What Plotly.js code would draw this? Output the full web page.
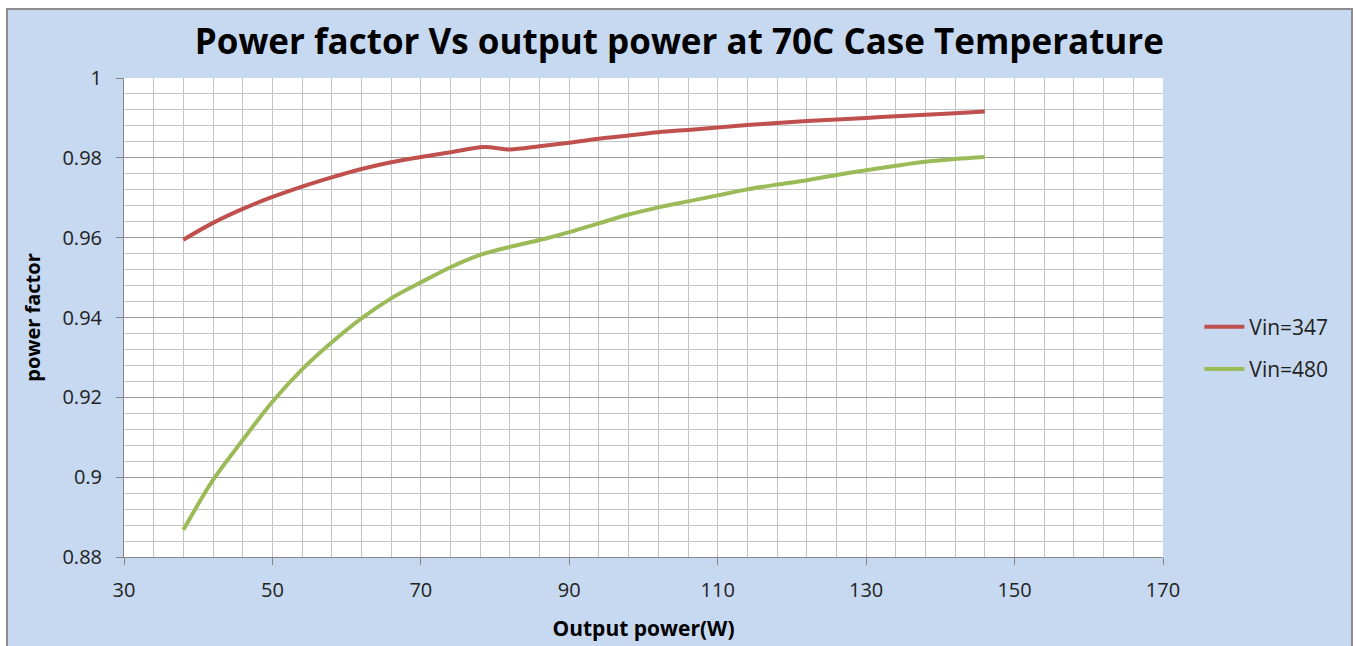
<!DOCTYPE html>
<html>
<head>
<meta charset="utf-8">
<script src="https://cdn.plot.ly/plotly-3.0.1.min.js"></script>
<style>html,body{margin:0;padding:0;background:#fff;}#chart{width:1356px;height:646px;}</style>
</head>
<body>
<div id="chart"></div>
<script>
// Output power (W)
const power347 = [38, 42, 46, 50, 54, 58, 62, 66, 70, 74, 78.5, 82, 86, 90, 94, 98, 102, 106, 110, 114, 118, 122, 126, 130, 134, 138, 142, 146];
const pf347    = [0.9595, 0.9637, 0.9672, 0.9702, 0.9728, 0.9751, 0.9772, 0.9789, 0.9802, 0.9814, 0.9827, 0.9821, 0.9829, 0.9838, 0.9848, 0.9856, 0.9864, 0.9870, 0.9876, 0.9882, 0.9887, 0.9892, 0.9896, 0.9900, 0.9904, 0.9908, 0.9912, 0.9916];
const power480 = [38, 42, 46, 50, 54, 58, 62, 66, 70, 74, 78, 82, 86, 90, 94, 98, 102, 106, 110, 114, 118, 122, 126, 130, 134, 138, 142, 146];
const pf480    = [0.8868, 0.8993, 0.9093, 0.9189, 0.9270, 0.9338, 0.9398, 0.9448, 0.9488, 0.9526, 0.9557, 0.9577, 0.9594, 0.9614, 0.9636, 0.9658, 0.9676, 0.9691, 0.9706, 0.9721, 0.9733, 0.9744, 0.9757, 0.9769, 0.9780, 0.9790, 0.9797, 0.9802];
const seriesNames = ['Vin=347', 'Vin=480'];
const titleText = 'Power factor Vs output power at 70C Case Temperature';
const xTitle = 'Output power(W)';
const yTitle = 'power factor';

const font = '"Open Sans", "Noto Sans", sans-serif';
const traces = [
  {x: power347, y: pf347, name: seriesNames[0], legendgroup: 'a', mode: 'lines', line: {color: '#c0504d', width: 4, shape: 'spline', smoothing: 0.9}},
  {x: power480, y: pf480, name: seriesNames[1], legendgroup: 'b', mode: 'lines', line: {color: '#9bbb59', width: 4, shape: 'spline', smoothing: 0.9}}
];
const layout = {
  width: 1356, height: 646,
  margin: {l: 124, r: 193, t: 78, b: 89, autoexpand: false},
  paper_bgcolor: '#ffffff',
  plot_bgcolor: '#ffffff',
  font: {family: font, color: '#222', size: 20},
  title: {text: '<b>' + titleText + '</b>', x: 0.501, xref: 'container', xanchor: 'center', y: 0.935, yanchor: 'middle', font: {family: font, size: 35, color: '#000'}},
  showlegend: true,
  legend: {x: 1.035, y: 0.436, xanchor: 'left', yanchor: 'middle', bgcolor: 'rgba(0,0,0,0)', font: {size: 21, color: '#222'}, traceorder: 'grouped', tracegroupgap: 12, itemwidth: 40},
  xaxis: {
    range: [30, 170], tick0: 30, dtick: 20, tickmode: 'linear',
    showgrid: true, gridcolor: '#c4c4c4', gridwidth: 1,
    minor: {tick0: 30, dtick: 4, showgrid: true, gridcolor: '#c4c4c4', gridwidth: 1},
    showline: true, linecolor: '#868686', linewidth: 1,
    ticks: 'outside', ticklen: 7, tickcolor: '#868686',
    ticklabelstandoff: 8,
    zeroline: false,
    tickfont: {size: 20, color: '#222'},
    title: {text: '<b>' + xTitle + '</b>', font: {size: 21, color: '#000'}, standoff: 19}
  },
  yaxis: {
    range: [0.88, 1.0], tick0: 0.88, dtick: 0.02, tickmode: 'linear',
    showgrid: true, gridcolor: '#9a9a9a', gridwidth: 1,
    minor: {tick0: 0.88, dtick: 0.004, showgrid: true, gridcolor: '#c4c4c4', gridwidth: 1},
    showline: true, linecolor: '#868686', linewidth: 1,
    ticks: 'outside', ticklen: 7, tickcolor: '#868686',
    ticklabelstandoff: 10,
    zeroline: false,
    tickfont: {size: 20, color: '#222'},
    title: {text: '<b>' + yTitle + '</b>', font: {size: 20, color: '#000'}, standoff: 16}
  },
  shapes: [
    {type: 'rect', xref: 'paper', yref: 'paper', x0: -0.1126, x1: 1.1819, y0: -0.25, y1: 1.144,
     fillcolor: '#c6d9f0', line: {color: '#8c8c8c', width: 2}, layer: 'below'},
    {type: 'rect', xref: 'paper', yref: 'paper', x0: 0, x1: 1, y0: 0, y1: 1,
     fillcolor: '#ffffff', line: {width: 0}, layer: 'below'}
  ]
};
Plotly.newPlot('chart', traces, layout, {displayModeBar: false, staticPlot: true});
</script>
</body>
</html>
